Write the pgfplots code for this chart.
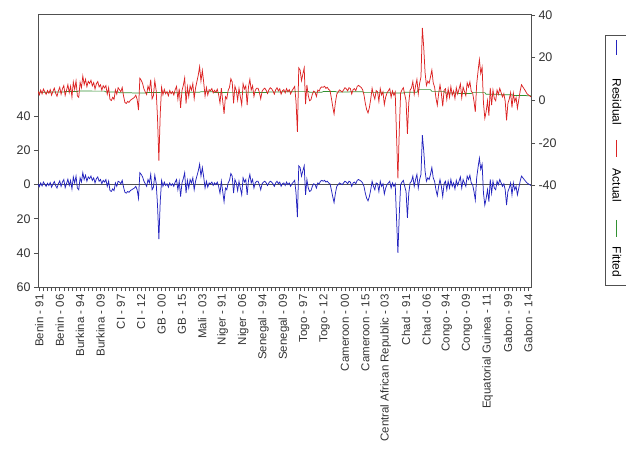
\documentclass[border=0pt]{standalone}
\usepackage{fontspec}
\setmainfont{Liberation Sans}
\usepackage{pgfplots}
\usepackage{pgfplotstable}
\pgfplotsset{compat=1.18}

\definecolor{resblue}{RGB}{35,35,190}
\definecolor{actred}{RGB}{220,35,35}
\definecolor{fitgreen}{RGB}{50,145,50}
\definecolor{framegray}{RGB}{80,80,80}

% i = observation, r = residual (left axis), a = actual, f = fitted (right axis)
\pgfplotstableread{
i r a f
0 0.5 4.3 3.8
1 -1.2 2.6 3.8
2 1.0 4.8 3.8
3 -0.8 3.0 3.8
4 1.5 5.3 3.8
5 0.2 4.0 3.8
6 -1.0 2.8 3.8
7 0.8 4.6 3.8
8 -0.5 3.3 3.8
9 1.2 5.0 3.8
10 -1.5 2.4 3.9
11 0.3 4.2 3.9
12 1.8 5.7 3.9
13 -0.6 3.3 3.9
14 -2.0 1.9 3.9
15 0.5 4.4 3.9
16 2.2 6.1 3.9
17 -1.0 2.9 3.9
18 1.5 5.4 3.9
19 3.0 6.9 3.9
20 -1.8 2.3 4.1
21 0.6 4.7 4.1
22 3.2 7.3 4.1
23 -0.5 3.6 4.1
24 2.5 6.6 4.1
25 -2.5 1.6 4.1
26 4.5 8.6 4.1
27 1.0 5.1 4.1
28 5.0 9.1 4.1
29 -2.0 2.1 4.1
30 -3.0 1.4 4.4
31 4.0 8.4 4.4
32 1.5 5.9 4.4
33 7.0 11.4 4.4
34 3.0 7.4 4.4
35 5.5 9.9 4.4
36 2.0 6.4 4.4
37 4.5 8.9 4.4
38 3.5 7.9 4.4
39 5.0 9.4 4.4
40 2.5 6.8 4.3
41 4.0 8.3 4.3
42 1.0 5.3 4.3
43 3.5 7.8 4.3
44 4.5 8.8 4.3
45 2.0 6.3 4.3
46 3.0 7.3 4.3
47 0.5 4.8 4.3
48 2.5 6.8 4.3
49 1.5 5.8 4.3
50 3.0 6.9 3.9
51 -1.0 2.9 3.9
52 2.0 5.9 3.9
53 -3.5 0.4 3.9
54 -4.0 -0.1 3.9
55 -2.5 1.4 3.9
56 -3.5 0.4 3.9
57 1.0 4.9 3.9
58 -1.0 2.9 3.9
59 2.0 5.9 3.9
60 1.5 5.0 3.5
61 0.5 4.0 3.5
62 2.5 6.0 3.5
63 -1.5 2.0 3.5
64 -4.5 -1.0 3.5
65 -5.0 -1.5 3.5
66 -4.0 -0.5 3.5
67 -4.5 -1.0 3.5
68 -3.5 0.0 3.5
69 -3.0 0.5 3.5
70 -2.5 0.9 3.4
71 -2.0 1.4 3.4
72 -1.0 2.4 3.4
73 -3.0 0.4 3.4
74 -8.0 -4.6 3.4
75 7.0 10.4 3.4
76 6.0 9.4 3.4
77 4.5 7.9 3.4
78 2.0 5.4 3.4
79 0.5 3.9 3.4
80 -1.0 2.7 3.7
81 3.0 6.7 3.7
82 1.0 4.7 3.7
83 6.0 9.7 3.7
84 -3.0 0.7 3.7
85 -1.5 2.2 3.7
86 5.5 9.2 3.7
87 1.0 4.7 3.7
88 -12.0 -8.3 3.7
89 -32.0 -28.3 3.7
90 -10.0 -6.4 3.6
91 2.5 6.1 3.6
92 -1.0 2.6 3.6
93 1.5 5.1 3.6
94 -0.5 3.1 3.6
95 0.5 4.1 3.6
96 -1.5 2.1 3.6
97 1.0 4.6 3.6
98 -0.5 3.1 3.6
99 0.5 4.1 3.6
100 -1.0 2.5 3.5
101 1.5 5.0 3.5
102 3.0 6.5 3.5
103 -3.0 0.5 3.5
104 2.0 5.5 3.5
105 -7.0 -3.5 3.5
106 1.0 4.5 3.5
107 3.5 7.0 3.5
108 7.0 10.5 3.5
109 -5.0 -1.5 3.5
110 2.5 6.3 3.8
111 -2.0 1.8 3.8
112 3.0 6.8 3.8
113 1.0 4.8 3.8
114 4.0 7.8 3.8
115 -3.0 0.8 3.8
116 2.0 5.8 3.8
117 5.0 8.8 3.8
118 8.0 11.8 3.8
119 12.0 15.8 3.8
120 5.0 9.0 4.0
121 10.0 14.0 4.0
122 4.5 8.5 4.0
123 -2.0 2.0 4.0
124 2.0 6.0 4.0
125 -1.5 2.5 4.0
126 1.0 5.0 4.0
127 0.5 4.5 4.0
128 1.5 5.5 4.0
129 -0.5 3.5 4.0
130 1.0 4.7 3.7
131 0.0 3.7 3.7
132 1.5 5.2 3.7
133 -1.0 2.7 3.7
134 -5.0 -1.3 3.7
135 2.0 5.7 3.7
136 -4.0 -0.3 3.7
137 -10.0 -6.3 3.7
138 -2.0 1.7 3.7
139 -3.0 0.7 3.7
140 1.0 4.6 3.6
141 2.5 6.1 3.6
142 6.5 10.1 3.6
143 5.0 8.6 3.6
144 -5.0 -1.4 3.6
145 3.0 6.6 3.6
146 1.0 4.6 3.6
147 -3.5 0.1 3.6
148 2.0 5.6 3.6
149 -2.0 1.6 3.6
150 -6.0 -2.2 3.8
151 4.0 7.8 3.8
152 1.5 5.3 3.8
153 3.0 6.8 3.8
154 -6.0 -2.2 3.8
155 2.5 6.3 3.8
156 6.0 9.8 3.8
157 1.0 4.8 3.8
158 3.0 6.8 3.8
159 -2.0 1.8 3.8
160 1.0 4.7 3.7
161 2.0 5.7 3.7
162 2.0 5.7 3.7
163 0.0 3.7 3.7
164 -3.0 0.7 3.7
165 0.5 4.2 3.7
166 1.5 5.2 3.7
167 2.0 5.7 3.7
168 1.0 4.7 3.7
169 -0.5 3.2 3.7
170 1.0 4.9 3.9
171 2.0 5.9 3.9
172 1.5 5.4 3.9
173 0.5 4.4 3.9
174 -1.0 2.9 3.9
175 1.0 4.9 3.9
176 2.0 5.9 3.9
177 0.5 4.4 3.9
178 1.5 5.4 3.9
179 -1.0 2.9 3.9
180 0.5 4.5 4.0
181 1.0 5.0 4.0
182 -0.5 3.5 4.0
183 1.5 5.5 4.0
184 0.0 4.0 4.0
185 1.0 5.0 4.0
186 -1.0 3.0 4.0
187 0.5 4.5 4.0
188 1.5 5.5 4.0
189 2.5 6.5 4.0
190 -5.0 -0.8 4.2
191 -19.0 -14.8 4.2
192 11.0 15.2 4.2
193 10.0 14.2 4.2
194 5.0 9.2 4.2
195 8.0 12.2 4.2
196 11.0 15.2 4.2
197 -6.0 -1.8 4.2
198 3.0 7.2 4.2
199 -2.0 2.2 4.2
200 -4.0 -0.2 3.8
201 -3.5 0.3 3.8
202 -1.0 2.8 3.8
203 0.5 4.3 3.8
204 0.0 3.8 3.8
205 -2.0 1.8 3.8
206 1.0 4.8 3.8
207 0.5 4.3 3.8
208 2.0 5.8 3.8
209 2.5 6.3 3.8
210 2.0 6.1 4.1
211 2.5 6.6 4.1
212 1.5 5.6 4.1
213 2.0 6.1 4.1
214 1.0 5.1 4.1
215 0.5 4.6 4.1
216 -3.0 1.1 4.1
217 -7.0 -2.9 4.1
218 -10.5 -6.4 4.1
219 -5.0 -0.9 4.1
220 -1.0 2.9 3.9
221 0.0 3.9 3.9
222 1.0 4.9 3.9
223 0.5 4.4 3.9
224 0.0 3.9 3.9
225 1.0 4.9 3.9
226 2.0 5.9 3.9
227 1.5 5.4 3.9
228 0.5 4.4 3.9
229 2.0 5.9 3.9
230 1.5 5.5 4.0
231 -1.0 3.0 4.0
232 1.0 5.0 4.0
233 1.5 5.5 4.0
234 0.5 4.5 4.0
235 2.5 6.5 4.0
236 3.0 7.0 4.0
237 2.5 6.5 4.0
238 2.0 6.0 4.0
239 1.0 5.0 4.0
240 -1.0 2.6 3.6
241 -5.0 -1.4 3.6
242 -8.0 -4.4 3.6
243 -9.5 -5.9 3.6
244 -7.0 -3.4 3.6
245 -3.0 0.6 3.6
246 2.0 5.6 3.6
247 -1.0 2.6 3.6
248 -3.0 0.6 3.6
249 1.0 4.6 3.6
250 0.5 4.0 3.5
251 -4.0 -0.5 3.5
252 2.0 5.5 3.5
253 -1.0 2.5 3.5
254 0.5 4.0 3.5
255 -5.5 -2.0 3.5
256 -2.0 1.5 3.5
257 0.0 3.5 3.5
258 1.0 4.5 3.5
259 2.0 5.5 3.5
260 -2.0 1.4 3.4
261 1.0 4.4 3.4
262 -1.0 2.4 3.4
263 0.5 3.9 3.4
264 -20.0 -16.6 3.4
265 -40.0 -36.6 3.4
266 -18.0 -14.6 3.4
267 0.0 3.4 3.4
268 1.5 4.9 3.4
269 2.5 5.9 3.4
270 -1.0 2.8 3.8
271 -4.0 -0.2 3.8
272 -19.5 -15.7 3.8
273 -5.0 -1.2 3.8
274 1.0 4.8 3.8
275 2.0 5.8 3.8
276 5.0 8.8 3.8
277 -1.0 2.8 3.8
278 3.0 6.8 3.8
279 6.0 9.8 3.8
280 -2.0 3.0 5.0
281 3.0 8.0 5.0
282 6.0 11.0 5.0
283 29.0 34.0 5.0
284 20.0 25.0 5.0
285 8.0 13.0 5.0
286 2.0 7.0 5.0
287 4.0 9.0 5.0
288 3.0 8.0 5.0
289 6.0 11.0 5.0
290 10.0 14.2 4.2
291 4.0 8.2 4.2
292 2.0 6.2 4.2
293 -3.0 1.2 4.2
294 -6.5 -2.3 4.2
295 -1.0 3.2 4.2
296 3.0 7.2 4.2
297 -1.0 3.2 4.2
298 -7.0 -2.8 4.2
299 0.5 4.7 4.2
300 2.0 5.4 3.4
301 -3.0 0.4 3.4
302 2.0 5.4 3.4
303 -2.0 1.4 3.4
304 3.0 6.4 3.4
305 -1.0 2.4 3.4
306 1.0 4.4 3.4
307 -2.5 0.9 3.4
308 2.5 5.9 3.4
309 -0.5 2.9 3.4
310 2.0 5.2 3.2
311 4.5 7.7 3.2
312 -2.0 1.2 3.2
313 3.0 6.2 3.2
314 1.0 4.2 3.2
315 -1.0 2.2 3.2
316 5.0 8.2 3.2
317 3.0 6.2 3.2
318 5.5 8.7 3.2
319 1.0 4.2 3.2
320 0.0 3.6 3.6
321 -4.0 -0.4 3.6
322 -9.0 -5.4 3.6
323 4.0 7.6 3.6
324 10.0 13.6 3.6
325 15.5 19.1 3.6
326 9.0 12.6 3.6
327 12.0 15.6 3.6
328 -5.0 -1.4 3.6
329 -12.0 -8.4 3.6
330 -8.0 -5.2 2.8
331 -3.0 -0.2 2.8
332 -10.0 -7.2 2.8
333 3.0 5.8 2.8
334 -5.0 -2.2 2.8
335 2.0 4.8 2.8
336 -2.0 0.8 2.8
337 -3.0 -0.2 2.8
338 2.0 4.8 2.8
339 0.0 2.8 2.8
340 3.0 5.6 2.6
341 1.0 3.6 2.6
342 -1.0 1.6 2.6
343 0.5 3.1 2.6
344 -3.0 -0.4 2.6
345 -12.0 -9.4 2.6
346 -4.0 -1.4 2.6
347 -2.0 0.6 2.6
348 1.0 3.6 2.6
349 -6.0 -3.4 2.6
350 1.0 3.3 2.3
351 -3.0 -0.7 2.3
352 -1.0 1.3 2.3
353 -6.0 -3.7 2.3
354 -2.0 0.3 2.3
355 2.0 4.3 2.3
356 5.0 7.3 2.3
357 4.0 6.3 2.3
358 3.0 5.3 2.3
359 2.0 4.3 2.3
360 1.0 3.1 2.1
361 0.5 2.6 2.1
362 0.0 2.1 2.1
363 -0.5 1.6 2.1
}\obs

\begin{document}
\begin{tikzpicture}[x=1pt,y=1pt]
\useasboundingbox (-38,-173) rectangle (588,287);

% left axis: residual
\begin{axis}[
    at={(0,0)}, anchor=south west,
    scale only axis, width=493pt, height=273pt,
    xmin=0, xmax=363, ymin=-60, ymax=100,
    axis line style={draw=framegray, line width=0.8pt},
    tick style={draw=framegray, line width=0.6pt},
    tick align=outside,
    major tick length=4pt, minor tick length=4pt,
    xtick pos=bottom, ytick pos=left,
    ytick={-60,-40,-20,0,20,40},
    yticklabels={60,40,20,0,20,40},
    xtick={1,16,...,361},
    minor xtick={1,4,...,363},
    xticklabels={Benin - 91, Benin - 06, Burkina - 94, Burkina - 09, CI - 97, CI - 12,
      GB - 00, GB - 15, Mali - 03, Niger - 91, Niger - 06, Senegal - 94, Senegal - 09,
      Togo - 97, Togo - 12, Cameroon - 00, Cameroon - 15, Central African Republic - 03,
      Chad - 91, Chad - 06, Congo - 94, Congo - 09, Equatorial Guinea - 11, Gabon - 99, Gabon - 14},
    xticklabel style={rotate=90, anchor=east, font=\fontsize{11.5}{12}\selectfont, text=black!80},
    yticklabel style={font=\fontsize{12.5}{13}\selectfont, text=black!80},
]
\addplot[framegray, line width=0.7pt] coordinates {(0,0) (363,0)};
\addplot[resblue, line width=0.75pt] table[x=i, y=r] {\obs};
\end{axis}

% right axis: actual and fitted
\begin{axis}[
    at={(0,0)}, anchor=south west,
    scale only axis, width=493pt, height=273pt,
    xmin=0, xmax=363, ymin=-87.6, ymax=40.5,
    axis x line=none, axis y line*=right,
    axis line style={draw=framegray, line width=0.8pt},
    tick style={draw=framegray, line width=0.6pt},
    tick align=outside, major tick length=4pt,
    ytick={-40,-20,0,20,40},
    yticklabels={-40,-20,0,20,40},
    yticklabel style={font=\fontsize{12.5}{13}\selectfont, text=black!80},
]
\addplot[fitgreen, line width=0.7pt] table[x=i, y=f] {\obs};
\addplot[actred, line width=0.75pt] table[x=i, y=a] {\obs};
\end{axis}

% legend box, rotated entries
\draw[framegray, line width=0.6pt] (567,2) rectangle (595,252);
\draw[resblue, line width=0.8pt] (578,247) -- (578,232);
\node[rotate=-90, font=\fontsize{12}{13}\selectfont] at (579,185) {Residual};
\draw[actred, line width=0.8pt] (578,147) -- (578,130);
\node[rotate=-90, font=\fontsize{12}{13}\selectfont] at (579,101.5) {Actual};
\draw[fitgreen, line width=0.8pt] (578,67) -- (578,50);
\node[rotate=-90, font=\fontsize{12}{13}\selectfont] at (579,25) {Fitted};
\end{tikzpicture}
\end{document}
